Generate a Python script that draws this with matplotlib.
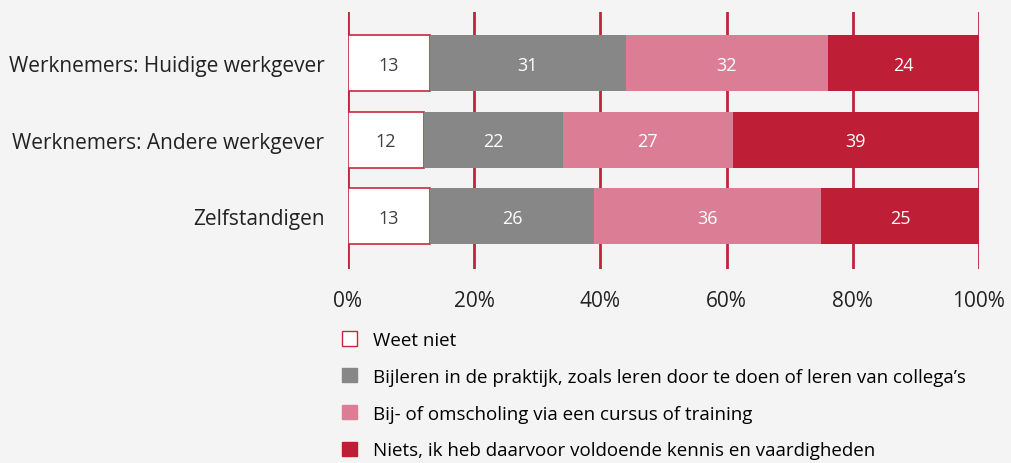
import numpy as np
import matplotlib.pyplot as plt
from matplotlib.patches import Patch

plt.rcParams['font.family'] = ['Open Sans', 'DejaVu Sans']

# Gegevens
groepen = ["Werknemers: Huidige werkgever", "Werknemers: Andere werkgever", "Zelfstandigen"]
weet_niet = [13, 12, 13]
bijleren = [31, 22, 26]
scholing = [32, 27, 36]
niets = [24, 39, 25]

reeksen = [weet_niet, bijleren, scholing, niets]
labels = ["Weet niet",
          "Bijleren in de praktijk, zoals leren door te doen of leren van collega’s",
          "Bij- of omscholing via een cursus of training",
          "Niets, ik heb daarvoor voldoende kennis en vaardigheden"]
kleuren = ["white", "#878787", "#dc7d96", "#be1e36"]
randen = ["#c8283f", "none", "none", "none"]
tekstkleur = ["#404040", "white", "white", "white"]

bg = "#f4f4f4"
rood = "#c0243c"

fig = plt.figure(figsize=(10.12, 4.64), dpi=100, facecolor=bg)
ax = fig.add_axes([348/1012, 1-270/464, (979-348)/1012, (270-13)/464])
ax.set_facecolor(bg)

y = np.arange(len(groepen))
links = np.zeros(len(groepen))
for i, reeks in enumerate(reeksen):
    waarden = np.array(reeks)
    ax.barh(y, waarden, left=links, height=0.73, color=kleuren[i],
            edgecolor=randen[i], linewidth=1.2 if i == 0 else 0, zorder=3)
    for yy, l, w in zip(y, links, waarden):
        ax.text(l + w/2, yy + 0.02, str(w), ha="center", va="center",
                color=tekstkleur[i], fontsize=13, zorder=4)
    links += waarden

ax.set_xlim(0, 100)
ax.set_ylim(2.69, -0.67)
for x in range(0, 101, 20):
    ax.axvline(x, color=rood, linewidth=2, zorder=2)

ax.set_xticks(range(0, 101, 20))
ax.set_xticklabels([f"{x}%" for x in range(0, 101, 20)], fontsize=15, color="#222222")
ax.set_yticks(y)
ax.set_yticklabels(groepen, fontsize=15, color="#222222")
ax.tick_params(length=0, axis="x", pad=15)
ax.tick_params(length=0, axis="y", pad=17)
for s in ax.spines.values():
    s.set_visible(False)

handles = [Patch(facecolor=kleuren[i], edgecolor=randen[i] if i == 0 else kleuren[i], linewidth=1)
           for i in range(4)]
fig.legend(handles, labels, loc="upper left", bbox_to_anchor=(342/1012, 1-332/464),
           frameon=False, fontsize=13.5, handlelength=0.8, handleheight=0.8,
           handletextpad=0.85, labelspacing=1.0, borderaxespad=0, borderpad=0)

fig.savefig("out.png", dpi=100, facecolor=bg)
